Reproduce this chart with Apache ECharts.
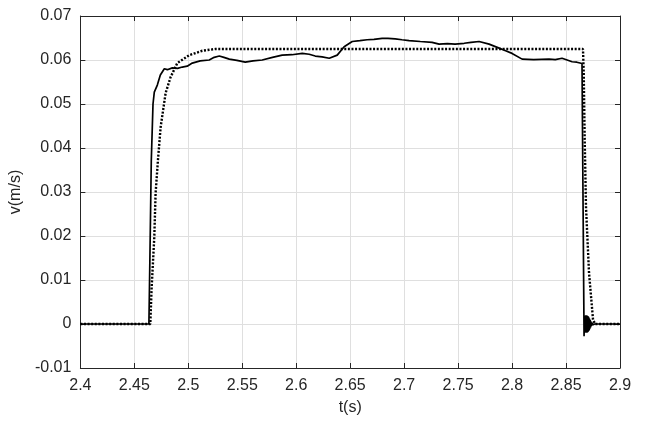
<!DOCTYPE html>
<html>
<head>
<meta charset="utf-8">
<script src="https://cdn.jsdelivr.net/npm/echarts@6/dist/echarts.min.js"></script>
<style>html,body{margin:0;padding:0;background:#fff}#c{width:650px;height:426px}</style>
</head>
<body>
<div id="c"></div>
<script>
// Measured velocity (solid)
const measuredT = [2.4, 2.4635, 2.4644, 2.4657, 2.4673, 2.4685, 2.4713, 2.4741, 2.4778, 2.4806, 2.4852, 2.4900, 2.4944, 2.4990, 2.5037, 2.5110, 2.5194, 2.5240, 2.5287, 2.5330, 2.5380, 2.5450, 2.5528, 2.5600, 2.5685, 2.5780, 2.5870, 2.5960, 2.6056, 2.6120, 2.6176, 2.6240, 2.6306, 2.6380, 2.6444, 2.6519, 2.6590, 2.6657, 2.6720, 2.6796, 2.6850, 2.6917, 2.6980, 2.7046, 2.7150, 2.7259, 2.7324, 2.7400, 2.7472, 2.7556, 2.7620, 2.7694, 2.7787, 2.7880, 2.7940, 2.8000, 2.8093, 2.8200, 2.8343, 2.8400, 2.8463, 2.8510, 2.8556, 2.8600, 2.8648, 2.8662,
  2.8667, 2.8670, 2.8673, 2.8676, 2.8679, 2.8682, 2.8685, 2.8688, 2.8691, 2.8694, 2.8697, 2.8700, 2.8703, 2.8706, 2.8709, 2.8712, 2.8715, 2.8718, 2.8721, 2.8724, 2.8727, 2.8730, 2.8733, 2.8736, 2.8739, 2.8742, 2.8745, 2.8748, 2.8751, 2.8754, 2.8757, 2.8760, 2.8763, 2.8766, 2.8769, 2.8772, 2.8775, 2.8780, 2.8790, 2.9];
const measuredV = [0, 0, 0.0145, 0.037, 0.050, 0.0527, 0.0543, 0.0566, 0.0580, 0.0578, 0.0582, 0.0581, 0.0584, 0.0586, 0.0593, 0.0598, 0.0600, 0.0606, 0.0609, 0.0606, 0.0602, 0.0599, 0.0595, 0.0598, 0.0600, 0.0606, 0.0611, 0.0612, 0.0615, 0.0613, 0.0609, 0.0607, 0.0604, 0.0611, 0.0630, 0.0642, 0.0644, 0.0646, 0.0647, 0.0649, 0.0649, 0.0648, 0.0646, 0.0644, 0.0642, 0.0640, 0.0636, 0.0637, 0.0636, 0.0638, 0.0640, 0.0642, 0.0636, 0.0627, 0.0621, 0.0615, 0.0602, 0.0601, 0.0602, 0.0601, 0.0604, 0.0600, 0.0596, 0.0595, 0.0592, 0.0590,
  -0.0028, 0.0012, -0.0016, 0.0018, -0.0019, 0.0020, -0.0020, 0.0020, -0.0020, 0.0019, -0.0019, 0.0018, -0.0018, 0.0017, -0.0016, 0.0015, -0.0014, 0.0012, -0.0011, 0.0009, -0.0008, 0.0006, -0.0005, 0.0004, -0.0003, 0.0003, -0.0002, 0.0002, -0.0001, 0.0001, -0.0001, 0.0001, 0, 0, 0, 0, 0, 0, 0, 0];
// Reference velocity (dotted)
const referenceT = [2.4, 2.4648, 2.4660, 2.4685, 2.4697, 2.4719, 2.4744, 2.4790, 2.4836, 2.4898, 2.5009, 2.5130, 2.5250, 2.8657, 2.8664, 2.8673, 2.8685, 2.8713, 2.8750, 2.8769, 2.9];
const referenceV = [0, 0, 0.008, 0.0198, 0.0297, 0.0373, 0.0448, 0.0525, 0.0561, 0.0593, 0.0611, 0.0621, 0.0625, 0.0625, 0.057, 0.0418, 0.0266, 0.0116, 0.001, 0, 0];
const xTicks = ["2.4", "2.45", "2.5", "2.55", "2.6", "2.65", "2.7", "2.75", "2.8", "2.85", "2.9"];
const yTicks = ["-0.01", "0", "0.01", "0.02", "0.03", "0.04", "0.05", "0.06", "0.07"];

const zip = (a, b) => a.map((t, i) => [t, b[i]]);
const txt = '#262626';
const font = 'Liberation Sans, Arial, sans-serif';
const xIdx = v => Math.round((v - 2.4) / 0.05);
const yIdx = v => Math.round((v + 0.01) / 0.01);
const baseX = {
  type: 'value', min: 2.4, max: 2.9, interval: 0.05,
  axisLine: { show: true, onZero: false, lineStyle: { color: txt, width: 1 } },
  axisTick: { show: true, inside: true, length: 5, lineStyle: { color: txt } },
  splitLine: { show: false }
};
const baseY = {
  type: 'value', min: -0.01, max: 0.07, interval: 0.01,
  axisLine: { show: true, onZero: false, lineStyle: { color: txt, width: 1 } },
  axisTick: { show: true, inside: true, length: 5, lineStyle: { color: txt } },
  splitLine: { show: false }
};
const chart = echarts.init(document.getElementById('c'), null, { renderer: 'canvas' });
chart.setOption({
  animation: false,
  backgroundColor: '#fff',
  grid: { left: 78, right: 30, top: 16, bottom: 58 },
  xAxis: [
    Object.assign({}, baseX, {
      position: 'bottom',
      name: 't(s)', nameLocation: 'middle', nameGap: 32,
      nameTextStyle: { color: txt, fontSize: 16, fontFamily: font },
      splitLine: { show: true, lineStyle: { color: '#dfdfdf', width: 1 } },
      axisLabel: { color: txt, fontSize: 16, fontFamily: font, margin: 10,
        formatter: v => xTicks[xIdx(v)] }
    }),
    Object.assign({}, baseX, { position: 'top', axisLabel: { show: false } })
  ],
  yAxis: [
    Object.assign({}, baseY, {
      position: 'left',
      name: 'v(m/s)', nameLocation: 'middle', nameGap: 52,
      nameTextStyle: { color: txt, fontSize: 16, fontFamily: font },
      splitLine: { show: true, lineStyle: { color: '#dfdfdf', width: 1 } },
      axisLabel: { color: txt, fontSize: 16, fontFamily: font, margin: 9,
        formatter: v => yTicks[yIdx(v)] }
    }),
    Object.assign({}, baseY, { position: 'right', axisLabel: { show: false } })
  ],
  series: [
    {
      type: 'line', data: zip(measuredT, measuredV), showSymbol: false, symbol: 'none',
      lineStyle: { color: '#000', width: 1.7 }, z: 3
    },
    {
      type: 'line', data: zip(referenceT, referenceV), showSymbol: false, symbol: 'none',
      lineStyle: { color: '#000', width: 2.4, type: [2, 1.6] }, z: 2
    }
  ]
});
</script>
</body>
</html>
